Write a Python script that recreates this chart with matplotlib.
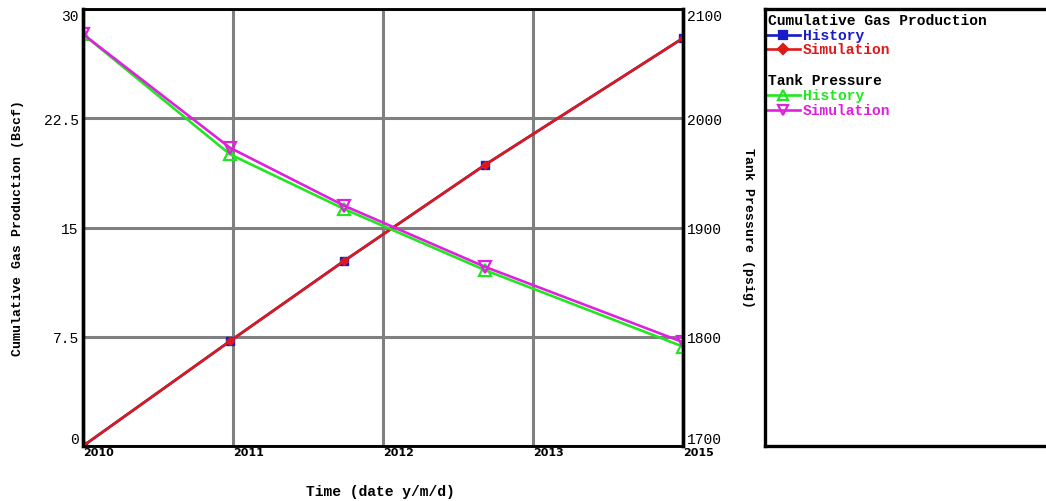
import matplotlib
matplotlib.use("Agg")
import matplotlib.pyplot as plt

# time axis: labelled ticks (evenly spaced) and sample positions in tick units
TICK_LABELS = ["2010", "2011", "2012", "2013", "2015"]
T = [0.0, 0.98, 1.74, 2.68, 4.0]

GAS_HIST = [0.0, 7.2, 12.7, 19.3, 28.0]
GAS_SIM = [0.0, 7.2, 12.7, 19.3, 28.0]
P_HIST = [2077, 1967, 1917, 1861, 1791]
P_SIM = [2077, 1973, 1920, 1864, 1795]

BLUE, RED, GREEN, MAG, GRID = "#1a1ac8", "#dd1a1a", "#22e622", "#dd22dd", "#808080"
MONO = "Liberation Mono"

fig = plt.figure(figsize=(10.46, 5.02), dpi=100)
W, H = 1046, 502
ax = fig.add_axes([83 / W, 55 / H, 600 / W, 437 / H])
ax2 = ax.twinx()

ax.set_xlim(0, 4)
ax.set_ylim(0, 30)
ax2.set_ylim(1700, 2100)
ax.set_xticks(range(len(TICK_LABELS)))
ax.set_xticklabels(TICK_LABELS, fontsize=8, fontweight="bold", family="DejaVu Sans", ha="left")
ax.set_yticks([0, 7.5, 15, 22.5, 30])
ax.set_yticklabels(["0", "7.5", "15", "22.5", "30"], family=MONO, fontsize=10.5)
ax2.set_yticks([1700, 1800, 1900, 2000, 2100])
ax2.set_yticklabels(["1700", "1800", "1900", "2000", "2100"], family=MONO, fontsize=10.5)
ax.tick_params(axis="x", length=0, pad=1)
ax.tick_params(axis="y", length=0, pad=3)
ax2.tick_params(axis="y", length=0, pad=3)
for a in (ax, ax2):
    lbls = a.get_yticklabels()
    lbls[0].set_va("bottom")
    lbls[-1].set_va("top")

ax.grid(True, color=GRID, lw=2.2)
for a in (ax, ax2):
    for s, lw in (("left", 2.4), ("right", 2.4), ("top", 1.8), ("bottom", 1.8)):
        a.spines[s].set_linewidth(lw)
        a.spines[s].set_color("black")
ax.set_axisbelow(True)

ax.plot(T, GAS_HIST, "-s", color=BLUE, lw=1.9, ms=6, mfc=BLUE, mec=BLUE, zorder=3)
ax.plot(T, GAS_SIM, "-D", color=RED, lw=1.9, ms=4.5, mfc=RED, mec=RED, zorder=4)
ax2.plot(T, P_HIST, "-^", color=GREEN, lw=1.9, ms=8, mfc="none", mec=GREEN, mew=1.6)
ax2.plot(T, P_SIM, "-v", color=MAG, lw=1.9, ms=8, mfc="none", mec=MAG, mew=1.6)

ax.set_ylabel("Cumulative Gas Production (Bscf)", family=MONO, fontweight="bold", fontsize=9.5)
ax.yaxis.set_label_coords(-0.098, 0.5)
ax2.set_ylabel("Tank Pressure (psig)", family=MONO, fontweight="bold", fontsize=9.5, rotation=-90)
ax2.yaxis.set_label_coords(1.118, 0.5)
ax.set_xlabel("Time (date y/m/d)", family=MONO, fontweight="bold", fontsize=10.5)
ax.xaxis.set_label_coords(0.495, -0.088)

# legend panel
lg = fig.add_axes([765 / W, 55 / H, 300 / W, 437 / H])
lg.set_xlim(765, 1065)
lg.set_ylim(447, 10)
lg.set_xticks([])
lg.set_yticks([])
for s in lg.spines.values():
    s.set_linewidth(2.4)
    s.set_color("black")

entries = [
    (21, "Cumulative Gas Production", "black", None, None),
    (36, "History", BLUE, "s", BLUE),
    (50, "Simulation", RED, "D", RED),
    (81, "Tank Pressure", "black", None, None),
    (96, "History", GREEN, "^", "none"),
    (111, "Simulation", MAG, "v", "none"),
]
for y, txt, col, mk, fc in entries:
    if mk is None:
        lg.text(768, y, txt, color=col, family=MONO, fontweight="bold", fontsize=10.5, va="center")
    else:
        lg.plot([767, 800], [y, y], color=col, lw=1.9)
        lg.plot([783], [y], marker=mk, ms=7 if mk in "^v" else 5.5, mfc=fc,
                mec=col, mew=1.6, color=col)
        lg.text(803, y, txt, color=col, family=MONO, fontweight="bold", fontsize=10.5, va="center")

fig.savefig("out.png", dpi=100)
